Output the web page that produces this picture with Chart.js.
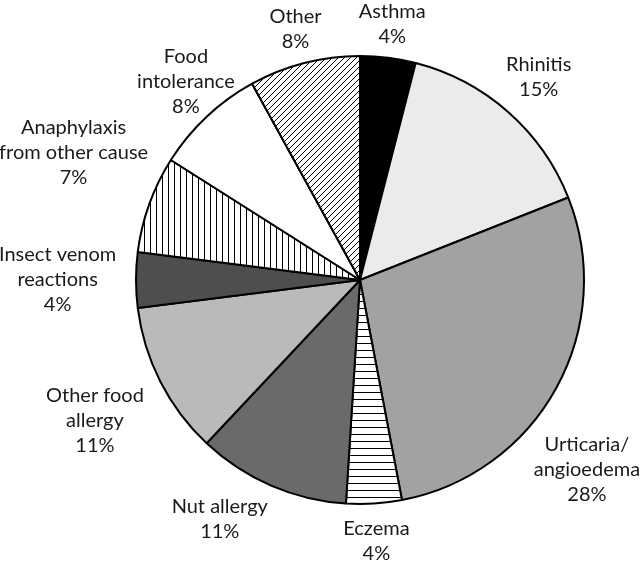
<!DOCTYPE html>
<html>
<head>
<meta charset="utf-8">
<script src="https://cdn.jsdelivr.net/npm/chart.js@4"></script>
<style>
  html, body { margin: 0; padding: 0; background: #fff; }
  canvas { display: block; }
</style>
</head>
<body>
<canvas id="chart" width="640" height="563"></canvas>
<script>
// data, clockwise from 12 o'clock
const categories = [
  ["Asthma"],
  ["Rhinitis"],
  ["Urticaria/", "angioedema"],
  ["Eczema"],
  ["Nut allergy"],
  ["Other food", "allergy"],
  ["Insect venom", "reactions"],
  ["Anaphylaxis", "from other cause"],
  ["Food", "intolerance"],
  ["Other"],
];
const percents = [4, 15, 28, 4, 11, 11, 4, 7, 8, 8];

// label nudges: extra angle (deg) and extra distance (px) vs the slice mid line
const labelNudge = {
  2: { a: 11, d: 0 },
  3: { a: 0, d: 6 },
  4: { a: 7, d: 2 },
  5: { a: -1, d: 8 },
  6: { a: 0, d: 10 },
  7: { a: 4, d: 0 },
  8: { a: 2, d: -26 },
};

function stripes(kind) {
  const size = kind === "horiz" ? 7 : 6;
  const c = document.createElement("canvas");
  c.width = size;
  c.height = size;
  const g = c.getContext("2d");
  g.fillStyle = "#fff";
  g.fillRect(0, 0, size, size);
  g.strokeStyle = "#000";
  g.lineWidth = 1;
  g.beginPath();
  if (kind === "horiz") {
    g.moveTo(0, 0.5);
    g.lineTo(size, 0.5);
  } else if (kind === "vert") {
    g.moveTo(0.5, 0);
    g.lineTo(0.5, size);
  } else {
    g.moveTo(-1, size + 1);
    g.lineTo(size + 1, -1);
    g.moveTo(-1, 1);
    g.lineTo(1, -1);
    g.moveTo(size - 1, size + 1);
    g.lineTo(size + 1, size - 1);
  }
  g.stroke();
  return g.createPattern(c, "repeat");
}

const fills = [
  "#000000",
  "#ebebeb",
  "#a2a2a2",
  stripes("horiz"),
  "#6a6a6a",
  "#bababa",
  "#4e4e4e",
  stripes("vert"),
  "#ffffff",
  stripes("diag"),
];

const FONT = "20px Lato";
const LINE_H = 25;

const sliceLabels = {
  id: "sliceLabels",
  afterDatasetsDraw(chart) {
    const ctx = chart.ctx;
    const arcs = chart.getDatasetMeta(0).data;
    ctx.save();
    ctx.font = FONT;
    ctx.fillStyle = "#1a1a1a";
    ctx.textAlign = "center";
    ctx.textBaseline = "middle";
    arcs.forEach((arc, i) => {
      const lines = categories[i].concat([percents[i] + "%"]);
      const { x, y, startAngle, endAngle, outerRadius } = arc.getProps(
        ["x", "y", "startAngle", "endAngle", "outerRadius"], true);
      const nudge = labelNudge[i] || { a: 0, d: 0 };
      const mid = (startAngle + endAngle) / 2 + nudge.a * Math.PI / 180;
      const dx = Math.cos(mid);
      const dy = Math.sin(mid);
      const halfW = Math.max(...lines.map(l => ctx.measureText(l).width)) / 2;
      const halfH = ((lines.length - 1) * LINE_H + 14) / 2;
      const dist = outerRadius + 10 + nudge.d + halfW * Math.abs(dx) + halfH * Math.abs(dy);
      let cx = x + dx * dist;
      const cy = y + dy * dist;
      cx = Math.min(Math.max(cx, halfW - 1), chart.width - halfW + 1);
      lines.forEach((l, k) => {
        ctx.fillText(l, cx, cy + (k - (lines.length - 1) / 2) * LINE_H);
      });
    });
    ctx.restore();
  },
};

new Chart(document.getElementById("chart"), {
  type: "pie",
  data: {
    labels: categories,
    datasets: [
      {
        data: percents,
        backgroundColor: fills,
        borderColor: "#000",
        borderWidth: 2,
      },
    ],
  },
  options: {
    responsive: false,
    animation: false,
    layout: { padding: { left: 135, right: 55, top: 55, bottom: 58 } },
    plugins: {
      legend: { display: false },
      tooltip: { enabled: false },
    },
  },
  plugins: [sliceLabels],
});
</script>
</body>
</html>
